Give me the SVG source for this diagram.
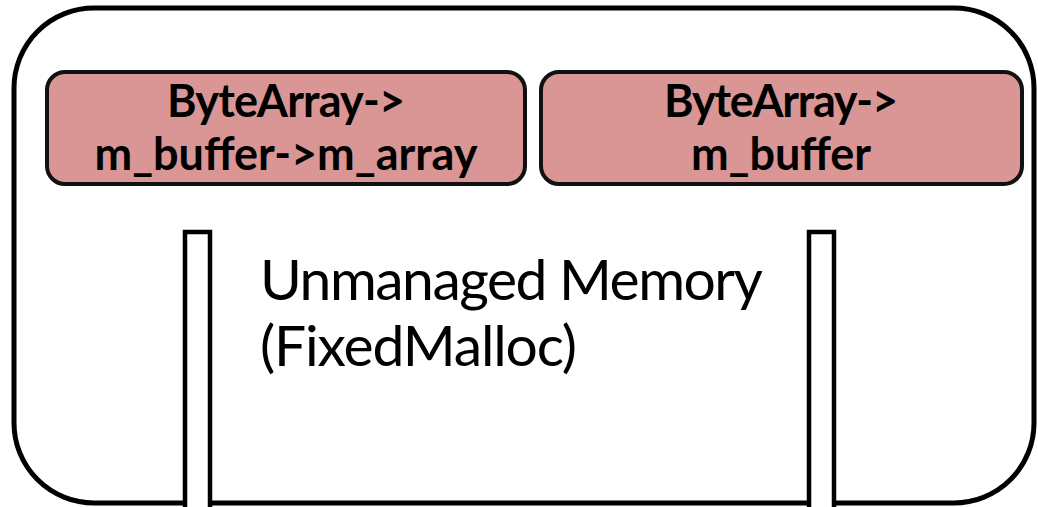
<svg xmlns="http://www.w3.org/2000/svg" width="1038" height="507" viewBox="0 0 1038 507">
<style>
.outer{fill:#fff;stroke:#000;stroke-width:5}
.box{fill:#D99694;stroke:#111;stroke-width:4}
.bar{fill:#fff;stroke:#000;stroke-width:4.5}
.lbl{font-family:Lato,"Open Sans",sans-serif;font-weight:bold;font-size:45px;fill:#000;text-anchor:middle}
.mem{font-family:Lato,"Open Sans",sans-serif;font-size:57px;fill:#000}
</style>
<g id="memory">
<rect class="outer" x="14" y="8" width="1020" height="495" rx="80" ry="80"/>
</g>
<g id="node-left">
<rect class="box" x="47" y="72" width="478" height="112" rx="18" ry="18"/>
<text class="lbl" x="286" y="117" textLength="238">ByteArray-&gt;</text>
<text class="lbl" x="286" y="170" textLength="383">m_buffer-&gt;m_array</text>
</g>
<g id="node-right">
<rect class="box" x="541" y="72" width="481" height="112" rx="18" ry="18"/>
<text class="lbl" x="781" y="117" textLength="234">ByteArray-&gt;</text>
<text class="lbl" x="781" y="170" textLength="180">m_buffer</text>
</g>
<g id="label">
<text class="mem" x="260" y="300" textLength="503">Unmanaged Memory</text>
<text class="mem" x="260" y="366" textLength="317">(FixedMalloc)</text>
</g>
<g id="connectors">
<rect class="bar" x="185" y="232" width="25" height="290"/>
<rect class="bar" x="809" y="232" width="25" height="290"/>
</g>
</svg>
